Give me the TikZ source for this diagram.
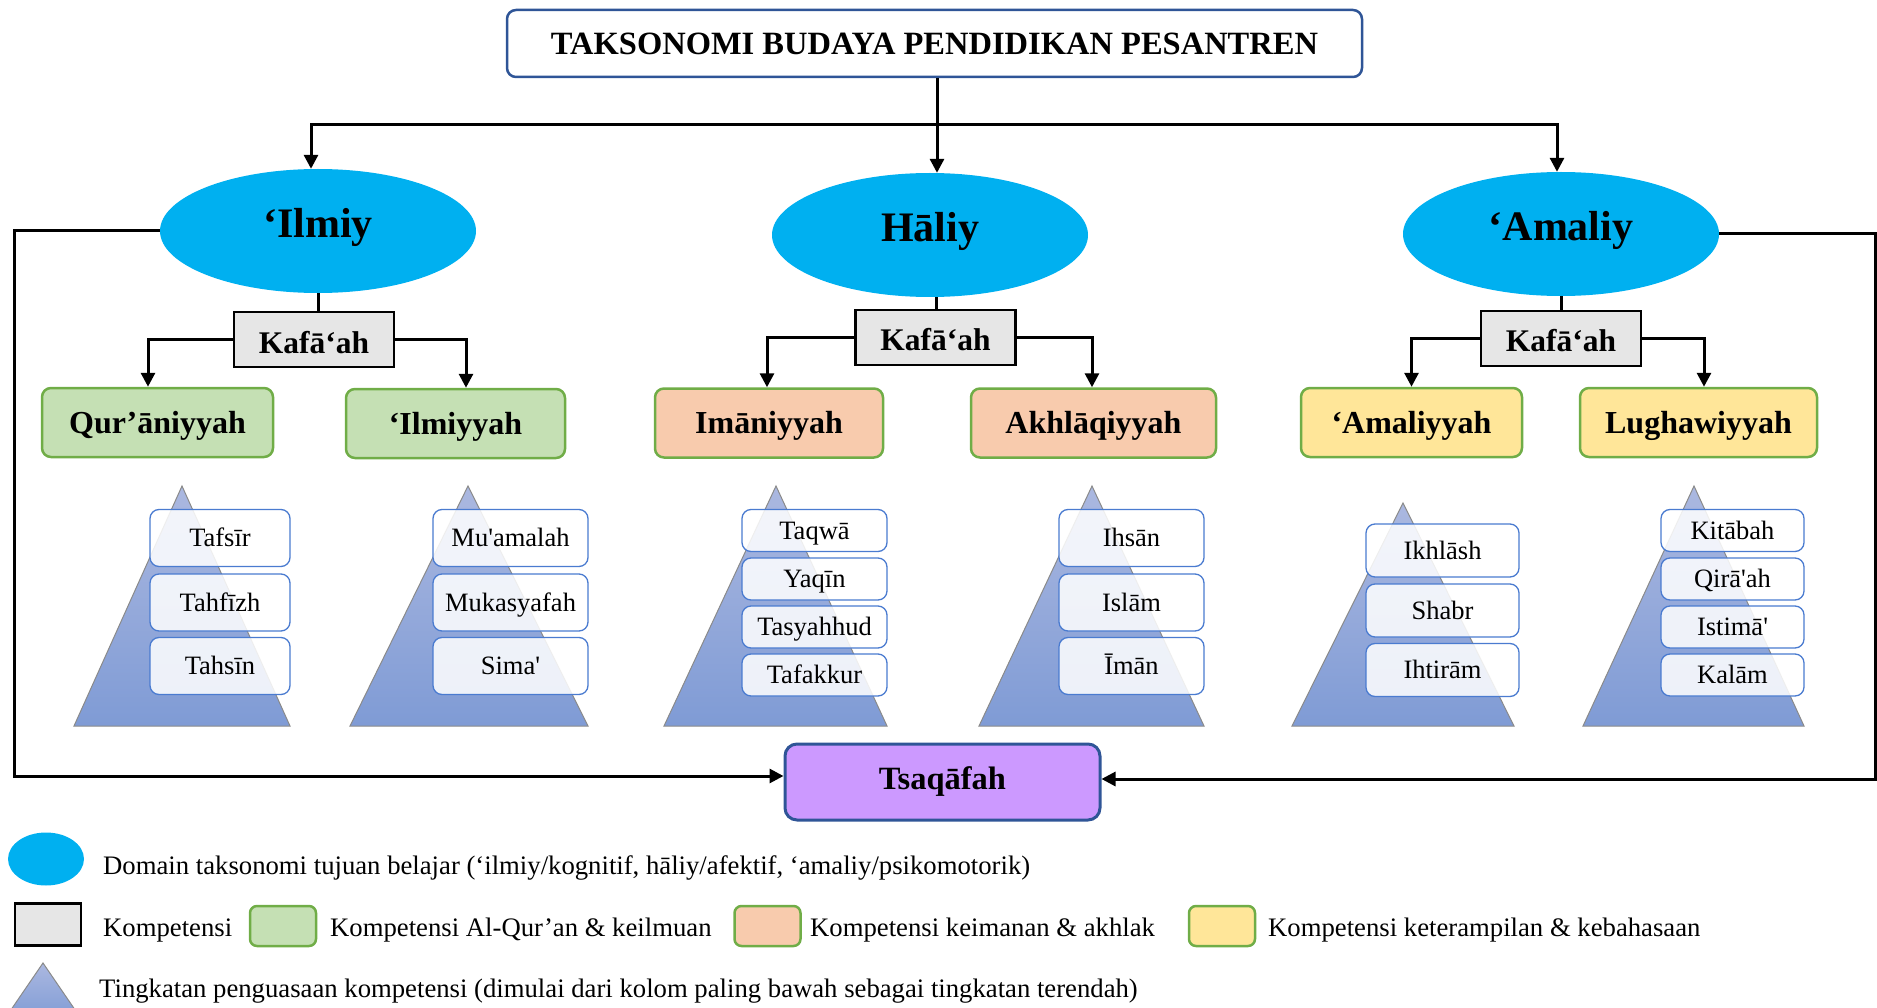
\documentclass[tikz,border=0pt]{standalone}
\usepackage{fontspec}
\setmainfont{Liberation Serif}
\usetikzlibrary{arrows.meta,shapes.geometric,calc}
\definecolor{domcyan}{HTML}{00B0F0}
\definecolor{kafgray}{HTML}{E6E6E6}
\definecolor{lvlgreen}{HTML}{70AD47}
\definecolor{greenfill}{HTML}{C5E0B4}
\definecolor{peachfill}{HTML}{F8CBAD}
\definecolor{yellowfill}{HTML}{FFE699}
\definecolor{purplefill}{HTML}{CC99FF}
\definecolor{darkblue}{HTML}{2F5597}
\definecolor{itemblue}{HTML}{4A7BD0}
\definecolor{pyrtop}{HTML}{ABB8E0}
\definecolor{pyrbot}{HTML}{7F9BD5}
\definecolor{pyredge}{HTML}{8A8A8A}
\begin{document}
\begin{tikzpicture}[x=1pt,y=-1pt,
  conn/.style={draw=black,line width=3pt},
  arr/.style={-{Triangle[length=14pt,width=14pt]}},
  titlebox/.style={draw=darkblue,line width=2.5pt,rounded corners=9pt,fill=white,
    minimum width=855pt,minimum height=67pt,inner sep=0pt,
    font=\fontsize{32.5}{38}\selectfont\bfseries},
  dom/.style={ellipse,fill=domcyan,minimum width=316pt,minimum height=124pt,inner sep=0pt,
    text height=28.5pt,text depth=14.5pt,
    font=\fontsize{42}{50}\selectfont\bfseries},
  kaf/.style={draw=black,fill=kafgray,line width=2.5pt,minimum width=160pt,minimum height=55pt,
    inner sep=0pt,text height=27pt,text depth=0pt,font=\fontsize{31.5}{37}\selectfont\bfseries},
  lvl/.style={draw=lvlgreen,line width=2.5pt,rounded corners=9pt,minimum height=69pt,
    inner sep=0pt,text height=21pt,text depth=0pt,font=\fontsize{32}{38}\selectfont\bfseries},
  item/.style={draw=itemblue,line width=1.3pt,rounded corners=9pt,fill=white,fill opacity=0.86,
    text opacity=1,inner sep=0pt,text height=17pt,text depth=0pt,font=\fontsize{26.5}{31}\selectfont},
  pyr/.style={top color=pyrtop,bottom color=pyrbot,draw=pyredge,line width=1pt},
  tsq/.style={draw=darkblue,fill=purplefill,line width=3pt,rounded corners=12pt,
    minimum width=315pt,minimum height=76pt,inner sep=0pt,font=\fontsize{32.5}{38}\selectfont\bfseries},
  legtext/.style={anchor=base west,inner sep=0pt,font=\fontsize{26.7}{31}\selectfont},
  swatch/.style={draw=lvlgreen,line width=2.5pt,rounded corners=7pt,minimum width=66pt,
    minimum height=40pt,inner sep=0pt}
]
\useasboundingbox (0,0) rectangle (1877,1008);
\clip (0,0) rectangle (1877,1008);

% title and domains
\node[titlebox] (t) at (934.5,43.5) {TAKSONOMI BUDAYA PENDIDIKAN PESANTREN};
\node[dom] (e1) at (318,231) {‘Ilmiy};
\node[dom] (e2) at (930,235) {Hāliy};
\node[dom] (e3) at (1561,234) {‘Amaliy};

\draw[conn,arr] ([xshift=2.5pt]t.south) -- ++(0,46) -| ([xshift=-7pt]e1.north);
\draw[conn,arr] ([xshift=2.5pt]t.south) -- ++(0,46) -| ([xshift=-4pt]e3.north);
\draw[conn,arr] ([xshift=2.5pt]t.south) -- ([xshift=7pt]e2.north);

% competences
\node[kaf] (k1) at (314,339.5) {Kafā‘ah};
\node[kaf] (k2) at (935.5,337.5) {Kafā‘ah};
\node[kaf] (k3) at (1561,338.5) {Kafā‘ah};

\draw[conn] (e1.south) -- (e1.south |- k1.north);
\draw[conn] ([xshift=6pt]e2.south) -- ([xshift=6pt]e2.south |- k2.north);
\draw[conn] (e3.south) -- (e3.south |- k3.north);

\node[lvl,fill=greenfill,minimum width=231pt] (q1) at (157.5,422.5) {Qur’āniyyah};
\node[lvl,fill=greenfill,minimum width=219pt] (q2) at (455.5,423.5) {‘Ilmiyyah};
\node[lvl,fill=peachfill,minimum width=228pt] (q3) at (769,423) {Imāniyyah};
\node[lvl,fill=peachfill,minimum width=245pt] (q4) at (1093.5,423) {Akhlāqiyyah};
\node[lvl,fill=yellowfill,minimum width=221pt] (q5) at (1411.5,422.5) {‘Amaliyyah};
\node[lvl,fill=yellowfill,minimum width=237pt] (q6) at (1698.5,422.5) {Lughawiyyah};

\draw[conn,arr] (k1.west) -| ([xshift=-9.5pt]q1.north);
\draw[conn,arr] (k1.east) -| ([xshift=10.5pt]q2.north);
\draw[conn,arr] (k2.west) -| ([xshift=-2pt]q3.north);
\draw[conn,arr] (k2.east) -| ([xshift=-1.5pt]q4.north);
\draw[conn,arr] (k3.west) -| (q5.north);
\draw[conn,arr] (k3.east) -| ([xshift=5.5pt]q6.north);

% pyramids
\shade[pyr] (182,486) -- (290,726) -- (74,726) -- cycle;
\shade[pyr] (468,486) -- (588,726) -- (350,726) -- cycle;
\shade[pyr] (776,486) -- (887,726) -- (664,726) -- cycle;
\shade[pyr] (1092,486) -- (1204,726) -- (979,726) -- cycle;
\shade[pyr] (1403,503) -- (1514,726) -- (1292,726) -- cycle;
\shade[pyr] (1694,486) -- (1804,726) -- (1583,726) -- cycle;

\begin{scope}[every node/.append style={item}]
\node[minimum width=140pt,minimum height=57pt] (p1a) at (220,538) {Tafsīr};
\node[minimum width=140pt,minimum height=57pt] (p1b) at (220,602.5) {Tahfīzh};
\node[minimum width=140pt,minimum height=57pt] (p1c) at (220,666) {Tahsīn};

\node[minimum width=155pt,minimum height=57pt] (p2a) at (510.5,538) {Mu\textquotesingle amalah};
\node[minimum width=155pt,minimum height=57pt] (p2b) at (510.5,602.5) {Mukasyafah};
\node[minimum width=155pt,minimum height=57pt] (p2c) at (510.5,666) {Sima\textquotesingle};

\node[minimum width=145pt,minimum height=42pt] (p3a) at (814.5,530.5) {Taqwā};
\node[minimum width=145pt,minimum height=42pt] (p3b) at (814.5,579) {Yaqīn};
\node[minimum width=145pt,minimum height=42pt] (p3c) at (814.5,627) {Tasyahhud};
\node[minimum width=145pt,minimum height=42pt] (p3d) at (814.5,675) {Tafakkur};

\node[minimum width=145pt,minimum height=57pt] (p4a) at (1131.5,538) {Ihsān};
\node[minimum width=145pt,minimum height=57pt] (p4b) at (1131.5,602.5) {Islām};
\node[minimum width=145pt,minimum height=57pt] (p4c) at (1131.5,666) {Īmān};

\node[minimum width=153pt,minimum height=53pt] (p5a) at (1442.5,550.5) {Ikhlāsh};
\node[minimum width=153pt,minimum height=53pt] (p5b) at (1442.5,610.5) {Shabr};
\node[minimum width=153pt,minimum height=53pt] (p5c) at (1442.5,670) {Ihtirām};

\node[minimum width=143pt,minimum height=42pt] (p6a) at (1732.5,530.5) {Kitābah};
\node[minimum width=143pt,minimum height=42pt] (p6b) at (1732.5,579) {Qirā\textquotesingle ah};
\node[minimum width=143pt,minimum height=42pt] (p6c) at (1732.5,627) {Istimā\textquotesingle};
\node[minimum width=143pt,minimum height=42pt] (p6d) at (1732.5,675) {Kalām};
\end{scope}

% culture
\node[tsq] (ts) at (942.5,782) {Tsaqāfah};
\draw[conn,arr] (e1.west) -- ++(-145,0) |- ($(ts.west)+(0,-6)$);
\draw[conn,arr] (e3.east) -- ++(156,0) |- ($(ts.east)+(0,-3)$);

% legend
\node[ellipse,fill=domcyan,minimum width=76pt,minimum height=53pt,inner sep=0pt] (lg1) at (46,859) {};
\node[legtext] (lt1) at (103,874) {Domain taksonomi tujuan belajar (‘ilmiy/kognitif, hāliy/afektif, ‘amaliy/psikomotorik)};
\node[draw=black,fill=kafgray,line width=2.5pt,minimum width=66pt,minimum height=42pt,inner sep=0pt] (lg2) at (48,924.5) {};
\node[legtext] (lt2) at (103,936) {Kompetensi};
\node[swatch,fill=greenfill] (lg3) at (283,926) {};
\node[legtext] (lt3) at (330,936) {Kompetensi Al-Qur’an \& keilmuan};
\node[swatch,fill=peachfill] (lg4) at (767.5,926) {};
\node[legtext] (lt4) at (810,936) {Kompetensi keimanan \& akhlak};
\node[swatch,fill=yellowfill] (lg5) at (1222,926) {};
\node[legtext] (lt5) at (1268,936) {Kompetensi keterampilan \& kebahasaan};
\shade[pyr] (43,963) -- (82,1020) -- (4,1020) -- cycle;
\node[legtext] (lt6) at (99,997) {Tingkatan penguasaan kompetensi (dimulai dari kolom paling bawah sebagai tingkatan terendah)};
\end{tikzpicture}
\end{document}
